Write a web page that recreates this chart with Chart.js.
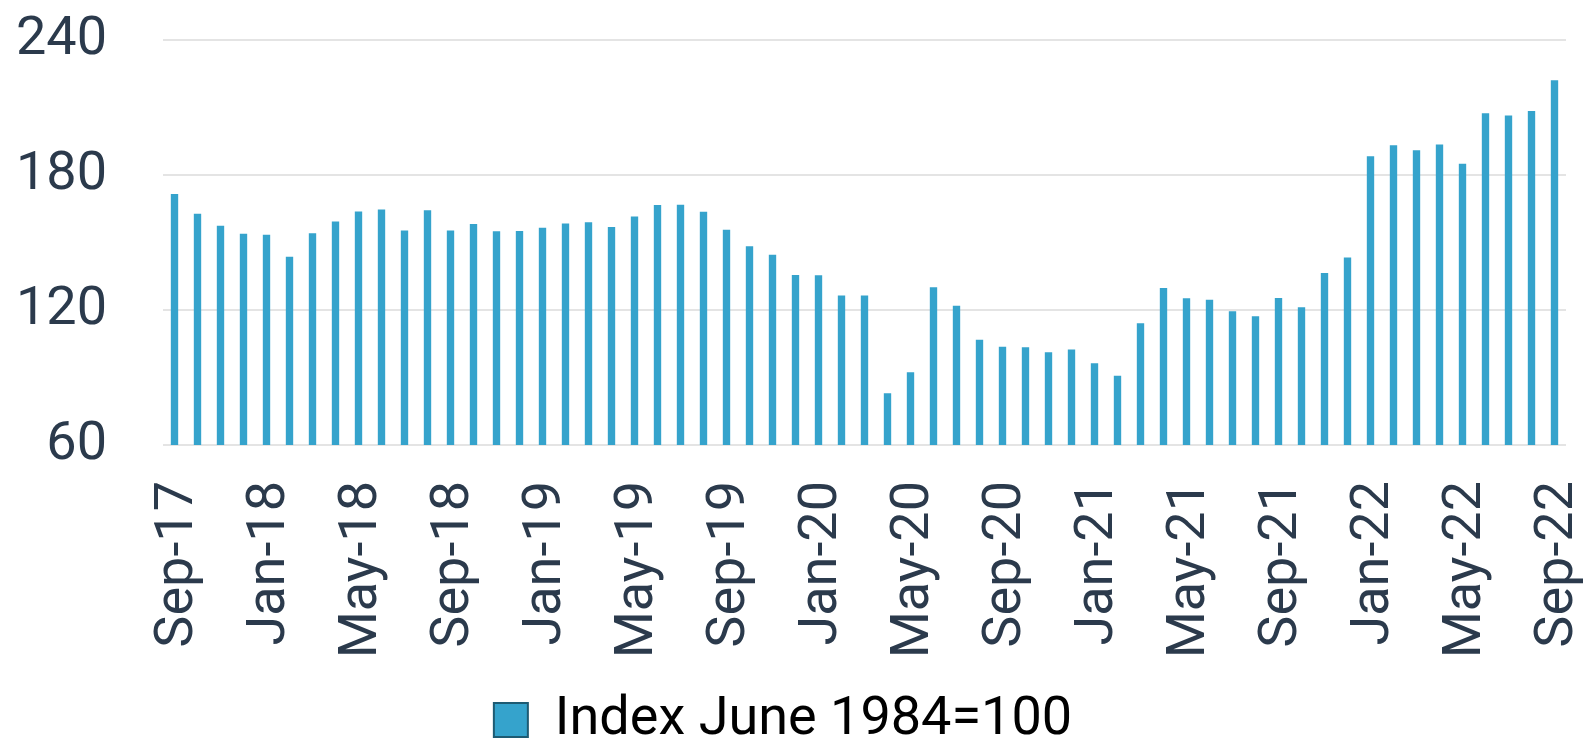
<!DOCTYPE html>
<html>
<head>
<meta charset="utf-8">
<script src="https://cdn.jsdelivr.net/npm/chart.js@4"></script>
<style>
  body { margin: 0; background: #fff; }
</style>
</head>
<body>
<canvas id="myChart" width="1587" height="748"></canvas>
<script>
const labels = [
  'Sep-17', 'Oct-17', 'Nov-17', 'Dec-17',
  'Jan-18', 'Feb-18', 'Mar-18', 'Apr-18', 'May-18', 'Jun-18', 'Jul-18', 'Aug-18', 'Sep-18', 'Oct-18', 'Nov-18', 'Dec-18',
  'Jan-19', 'Feb-19', 'Mar-19', 'Apr-19', 'May-19', 'Jun-19', 'Jul-19', 'Aug-19', 'Sep-19', 'Oct-19', 'Nov-19', 'Dec-19',
  'Jan-20', 'Feb-20', 'Mar-20', 'Apr-20', 'May-20', 'Jun-20', 'Jul-20', 'Aug-20', 'Sep-20', 'Oct-20', 'Nov-20', 'Dec-20',
  'Jan-21', 'Feb-21', 'Mar-21', 'Apr-21', 'May-21', 'Jun-21', 'Jul-21', 'Aug-21', 'Sep-21', 'Oct-21', 'Nov-21', 'Dec-21',
  'Jan-22', 'Feb-22', 'Mar-22', 'Apr-22', 'May-22', 'Jun-22', 'Jul-22', 'Aug-22', 'Sep-22',
];

const indexValues = [
  171.6, 162.8, 157.5, 153.9,
  153.5, 143.7, 154.1, 159.3, 163.8, 164.7, 155.3, 164.3, 155.3, 158.2, 155.0, 155.1,
  156.6, 158.5, 159.0, 156.9, 161.6, 166.7, 166.8, 163.7, 155.7, 148.3, 144.6, 135.6,
  135.4, 126.5, 126.5, 83.0, 92.3, 130.1, 121.9, 106.8, 103.7, 103.5, 101.2, 102.4,
  96.3, 90.8, 114.1, 129.8, 125.2, 124.6, 119.4, 117.2, 125.3, 121.2, 136.4, 143.3,
  188.3, 193.2, 191.0, 193.6, 185.0, 207.4, 206.5, 208.4, 222.1,
];

const yTicks = [60, 120, 180, 240];

const textColor = '#2b3a4c';
const barColor = '#35a3cc';

const data = {
  labels: labels,
  datasets: [{
    label: 'Index June 1984=100',
    backgroundColor: barColor,
    borderWidth: 0,
    barPercentage: 0.32,
    categoryPercentage: 1,
    data: indexValues,
  }]
};

const config = {
  type: 'bar',
  data: data,
  options: {
    responsive: false,
    animation: false,
    layout: { padding: { top: 40, right: 21, left: 0, bottom: -9 } },
    plugins: {
      tooltip: { enabled: false },
      legend: {
        position: 'bottom',
        labels: {
          color: textColor,
          font: { family: 'Roboto', size: 54, lineHeight: 1 },
          boxWidth: 34,
          boxHeight: 34,
          padding: 4,
          generateLabels: (chart) => [{
            text: 'Index June 1984=100',
            fillStyle: barColor,
            strokeStyle: '#1d5b73',
            lineWidth: 2,
            datasetIndex: 0,
          }],
        },
      },
    },
    scales: {
      x: {
        grid: { display: false, drawTicks: false },
        border: { display: false },
        afterFit: (scale) => {
          scale.height = 244;
          scale.paddingLeft = 0;
          scale.paddingRight = 0;
        },
        ticks: {
          color: textColor,
          font: { family: 'Roboto', size: 54 },
          autoSkip: false,
          minRotation: 90,
          maxRotation: 90,
          padding: 36,
          labelOffset: 4,
          callback: function (value, index) {
            return index % 4 === 0 ? labels[index] : '';
          },
        },
      },
      y: {
        min: yTicks[0],
        max: yTicks[yTicks.length - 1],
        afterBuildTicks: (axis) => { axis.ticks = yTicks.map(v => ({ value: v })); },
        afterFit: (scale) => {
          scale.width = 163;
          scale.paddingTop = 0;
          scale.paddingBottom = 0;
        },
        grid: { color: '#e4e4e4', lineWidth: 2, drawTicks: false },
        border: { display: false },
        ticks: {
          color: textColor,
          font: { family: 'Roboto', size: 54 },
          padding: 56,
        },
      },
    },
  },
};

const myChart = new Chart(
  document.getElementById('myChart'),
  config
);
</script>
</body>
</html>
